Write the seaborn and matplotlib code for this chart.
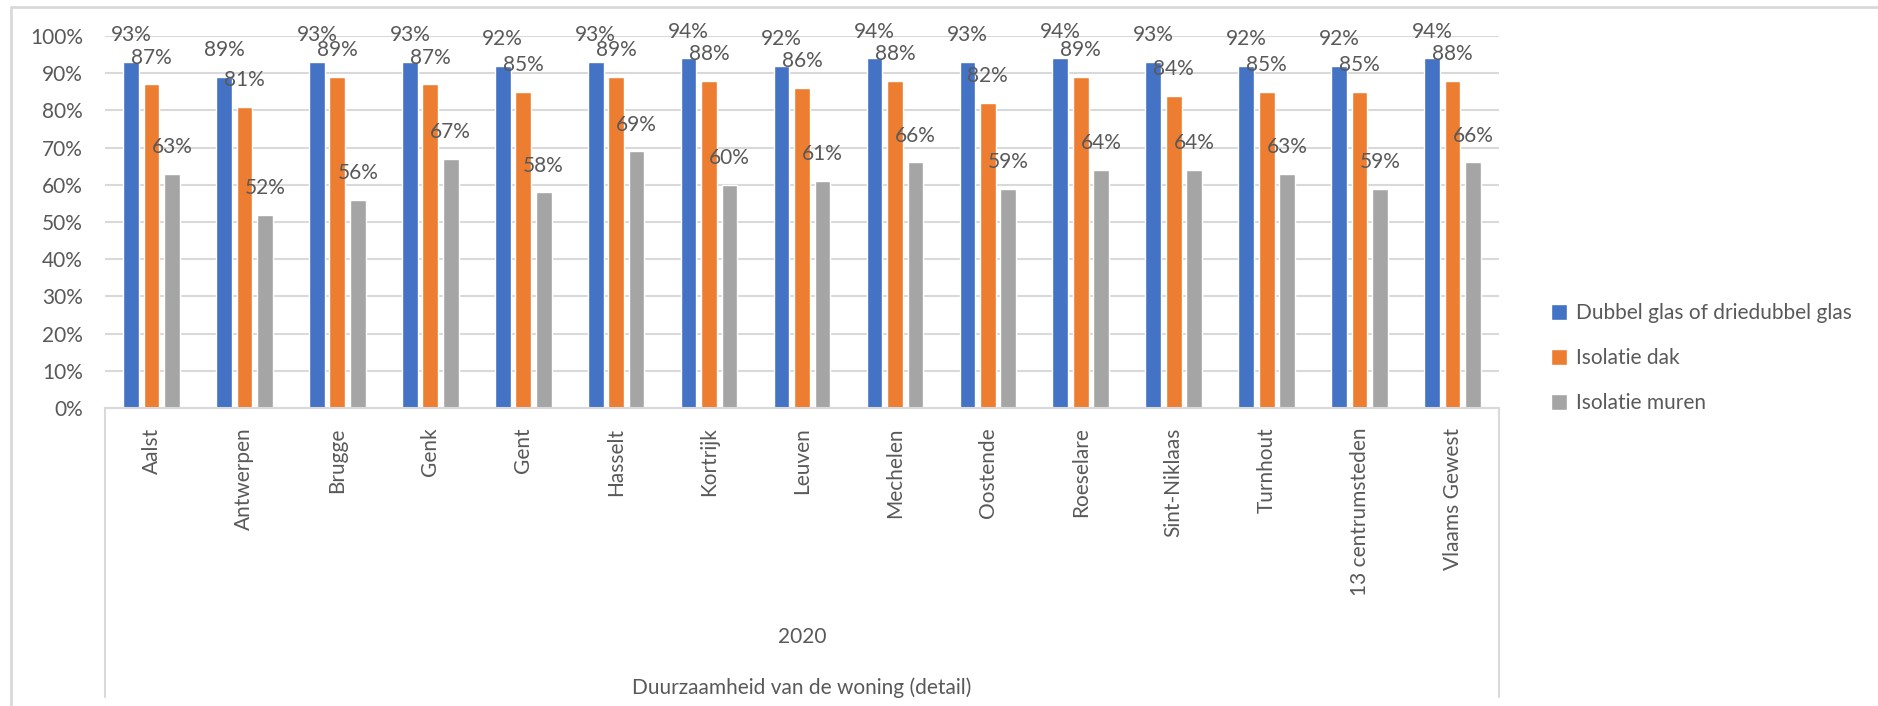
import pandas as pd
import matplotlib.pyplot as plt
from matplotlib.lines import Line2D
from matplotlib.patches import Patch
from matplotlib.ticker import FuncFormatter
import seaborn as sns

# gegevens uit de grafiek (percentages)
steden = ["Aalst", "Antwerpen", "Brugge", "Genk", "Gent", "Hasselt", "Kortrijk",
          "Leuven", "Mechelen", "Oostende", "Roeselare", "Sint-Niklaas",
          "Turnhout", "13 centrumsteden", "Vlaams Gewest"]
reeksen = ["Dubbel glas of driedubbel glas", "Isolatie dak", "Isolatie muren"]
dubbel_glas = [93, 89, 93, 93, 92, 93, 94, 92, 94, 93, 94, 93, 92, 92, 94]
isolatie_dak = [87, 81, 89, 87, 85, 89, 88, 86, 88, 82, 89, 84, 85, 85, 88]
isolatie_muren = [63, 52, 56, 67, 58, 69, 60, 61, 66, 59, 64, 64, 63, 59, 66]
jaar = "2020"
titel = "Duurzaamheid van de woning (detail)"

kleuren = ["#4472C4", "#ED7D31", "#A5A5A5"]
tekst = "#595959"
raster = "#D9D9D9"

df = pd.DataFrame({"stad": steden * 3,
                   "reeks": [reeksen[0]] * 15 + [reeksen[1]] * 15 + [reeksen[2]] * 15,
                   "waarde": dubbel_glas + isolatie_dak + isolatie_muren})

sns.set_style("white")
plt.rcParams["font.family"] = ["Lato", "DejaVu Sans"]
fs = 15

fig = plt.figure(figsize=(18.78, 7.06), dpi=100)
W, H = 1878, 706
ax = fig.add_axes([105 / W, 1 - 408 / H, (1499 - 105) / W, (408 - 36) / H])

sns.barplot(ax=ax, data=df, x="stad", y="waarde", hue="reeks", order=steden,
            hue_order=reeksen, palette=kleuren, width=0.66, gap=0.23,
            saturation=1, legend=False)

for c in ax.containers:
    ax.bar_label(c, fmt="{:.0f}%", padding=12, fontsize=fs, color=tekst)

ax.set_ylim(0, 100)
ax.set_xlim(-0.5, 14.5)
ax.set_yticks(range(0, 101, 10))
ax.yaxis.set_major_formatter(FuncFormatter(lambda v, p: f"{v:.0f}%"))
ax.yaxis.grid(True, color=raster, lw=1.5)
ax.set_axisbelow(True)
for s in ["top", "right", "left"]:
    ax.spines[s].set_visible(False)
ax.spines["bottom"].set_color(raster)
ax.spines["bottom"].set_linewidth(1.5)
ax.tick_params(axis="both", length=0, labelsize=fs, labelcolor=tekst)
ax.tick_params(axis="y", pad=16)
ax.tick_params(axis="x", pad=14)
plt.setp(ax.get_xticklabels(), rotation=90)
ax.set_xlabel("")
ax.set_ylabel("")

# kader van de categorie-as
ondergrens = -(697 - 408) / (408 - 36) * 100
for x in [-0.5, 14.5]:
    ax.plot([x, x], [0, ondergrens], color=raster, lw=1.5, clip_on=False)

fig.text(802 / W, 1 - 637 / H, jaar, ha="center", va="center", fontsize=fs, color=tekst)
fig.text(802 / W, 1 - 688 / H, titel, ha="center", va="center", fontsize=fs, color=tekst)

# rand van het diagram
fig.add_artist(Line2D([11 / W, 1], [1 - 7 / H, 1 - 7 / H], color=raster, lw=2))
fig.add_artist(Line2D([11 / W, 11 / W], [0, 1 - 7 / H], color=raster, lw=2))

handles = [Patch(facecolor=k, label=r) for k, r in zip(kleuren, reeksen)]
leg = fig.legend(handles=handles, loc="center left", bbox_to_anchor=(1532 / W, 1 - 358 / H),
                 frameon=False, fontsize=fs, labelcolor=tekst, handlelength=0.8,
                 handleheight=0.8, handletextpad=0.4, labelspacing=1.2)

fig.savefig("out.png", dpi=100, facecolor="white")
